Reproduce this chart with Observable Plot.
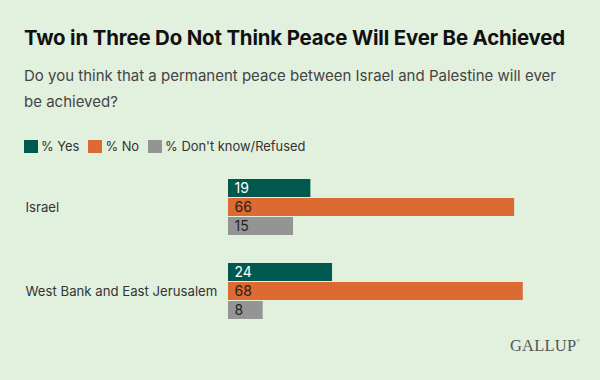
<!DOCTYPE html>
<html>
<head>
<meta charset="utf-8">
<script src="https://cdn.jsdelivr.net/npm/d3@7"></script>
<script src="https://cdn.jsdelivr.net/npm/@observablehq/plot@0.6"></script>
<style>
  html, body { margin: 0; padding: 0; }
  body { width: 600px; height: 380px; overflow: hidden; background: #e2f0de; }
  #wrap { position: relative; width: 600px; height: 380px; background: #e2f0de; font-family: Inter, Roboto, sans-serif; }
  #title { position: absolute; left: 24px; top: 25px; font-size: 20.4px; font-weight: 700; color: #111; white-space: nowrap; letter-spacing: -0.15px; }
  #subtitle { position: absolute; left: 24px; top: 63px; width: 545px; font-size: 15px; line-height: 26px; color: #444; }
  #legend { position: absolute; left: 24px; top: 139px; display: flex; align-items: center; font-size: 12.9px; color: #333; }
  .item { display: flex; align-items: center; margin-right: 9px; }
  .sw { width: 14px; height: 13px; margin-right: 3px; }
  #chart { position: absolute; left: 0; top: 160px; }
  #logo { position: absolute; left: 510px; top: 336px; font-family: "Liberation Serif", "DejaVu Serif", serif; font-size: 16.5px; color: #555; letter-spacing: 0.2px; }
  #logo sup { font-size: 5px; vertical-align: top; position: relative; top: 2px; }
</style>
</head>
<body>
<div id="wrap">
  <div id="title">Two in Three Do Not Think Peace Will Ever Be Achieved</div>
  <div id="subtitle">Do you think that a permanent peace between Israel and Palestine will ever be achieved?</div>
  <div id="legend"></div>
  <div id="chart"></div>
  <div id="logo">GALLUP<sup>®</sup></div>
</div>
<script>
const countries = ["Israel", "West Bank and East Jerusalem"];
const responses = ["% Yes", "% No", "% Don't know/Refused"];
const yesValues = [19, 24];
const noValues = [66, 68];
const dkValues = [15, 8];
const colors = ["#00594e", "#dc6a32", "#949494"];

const data = countries.flatMap((c, i) => [
  {country: c, response: responses[0], value: yesValues[i]},
  {country: c, response: responses[1], value: noValues[i]},
  {country: c, response: responses[2], value: dkValues[i]}
]);

const legend = document.getElementById("legend");
responses.forEach((r, i) => {
  const it = document.createElement("div");
  it.className = "item";
  const sw = document.createElement("div");
  sw.className = "sw";
  sw.style.background = colors[i];
  const t = document.createElement("span");
  t.textContent = r;
  it.appendChild(sw); it.appendChild(t);
  legend.appendChild(it);
});

const chart = Plot.plot({
  width: 600,
  height: 180,
  marginLeft: 228,
  marginRight: 0,
  marginTop: 18,
  marginBottom: 19,
  style: {background: "transparent", fontFamily: "Inter, Roboto, sans-serif", fontSize: "14px"},
  x: {domain: [0, 372 / 4.335], axis: null},
  y: {domain: responses, axis: null, padding: 0.03},
  fy: {domain: countries, paddingInner: 0.298, paddingOuter: 0, axis: null},
  color: {domain: responses, range: colors},
  marks: [
    Plot.barX(data, {fy: "country", y: "response", x: "value", fill: "response"}),
    Plot.text(data.filter(d => d.response === responses[0]), {fy: "country", y: "response", x: 0, text: d => String(d.value), textAnchor: "start", dx: 6, fill: "#ffffff", fontSize: 14}),
    Plot.text(data.filter(d => d.response !== responses[0]), {fy: "country", y: "response", x: 0, text: d => String(d.value), textAnchor: "start", dx: 6, fill: "#222222", fontSize: 14}),
    Plot.text(countries, {fy: d => d, text: d => d, frameAnchor: "left", textAnchor: "start", dx: -203, fill: "#333333", fontSize: 13.2})
  ]
});
document.getElementById("chart").appendChild(chart);
</script>
</body>
</html>
